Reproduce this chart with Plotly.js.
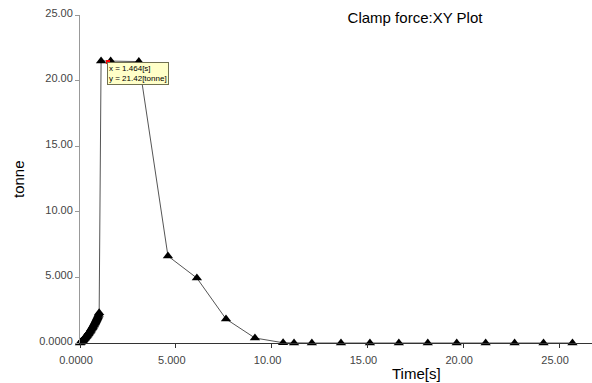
<!DOCTYPE html>
<html>
<head>
<meta charset="utf-8">
<script src="https://cdn.plot.ly/plotly-3.0.1.min.js"></script>
<style>html,body{margin:0;padding:0;background:#fff;}#chart{width:592px;height:383px;}</style>
</head>
<body>
<div id="chart"></div>
<script>
// Clamp force vs time
var timeS = [0, 0.025, 0.05, 0.075, 0.1, 0.125, 0.15, 0.175, 0.2, 0.225, 0.25, 0.275, 0.3, 0.325, 0.35, 0.375, 0.4,
             0.425, 0.45, 0.475, 0.5, 0.525, 0.55, 0.575, 0.6, 0.625, 0.65, 0.675, 0.7, 0.725, 0.75, 0.775, 0.8,
             0.825, 0.85, 0.875, 0.9, 0.925, 0.95, 0.975, 1.0,
             1.1, 1.6, 3.07, 4.59, 6.1, 7.62, 9.13, 10.6, 11.17, 12.1, 13.62, 15.13, 16.64, 18.15, 19.66, 21.17, 22.68, 24.19, 25.7];
var forceT = [0, 0.03, 0.07, 0.1, 0.14, 0.17, 0.21, 0.25, 0.3, 0.34, 0.38, 0.42, 0.47, 0.51, 0.56, 0.61, 0.66,
              0.71, 0.76, 0.81, 0.87, 0.92, 0.98, 1.04, 1.1, 1.16, 1.22, 1.28, 1.35, 1.41, 1.48, 1.55, 1.62,
              1.69, 1.77, 1.85, 1.93, 2.01, 2.1, 2.2, 2.3,
              21.5, 21.5, 21.45, 6.63, 4.95, 1.83, 0.38, 0.02, 0, 0, 0, 0, 0, 0, 0, 0, 0, 0, 0];
var cursorX = [1.464];
var cursorY = [21.42];
var xTickVals = [0, 5, 10, 15, 20, 25];
var xTickText = ["0.0000", "5.000", "10.00", "15.00", "20.00", "25.00"];
var yTickVals = [0, 5, 10, 15, 20, 25];
var yTickText = ["0.0000", "5.000", "10.00", "15.00", "20.00", "25.00"];

var traces = [
  {x: timeS, y: forceT, type: 'scatter', mode: 'lines+markers',
   line: {color: '#555555', width: 1},
   marker: {symbol: 'triangle-up', size: 9, color: '#000000'},
   cliponaxis: false, hoverinfo: 'x+y', showlegend: false},
  {x: cursorX, y: cursorY, type: 'scatter', mode: 'markers',
   marker: {symbol: 'square', size: 4, color: '#ff0000'},
   cliponaxis: false, showlegend: false}
];

var font = "Arial, 'Liberation Sans', sans-serif";
var layout = {
  width: 592, height: 383,
  margin: {l: 80, r: 0, t: 15, b: 40},
  paper_bgcolor: '#ffffff', plot_bgcolor: '#ffffff',
  font: {family: font, color: '#333333', size: 11},
  title: {text: 'Clamp force:XY Plot', font: {family: font, size: 15, color: '#000000'},
          x: 415/592, xanchor: 'center', xref: 'container', y: 1 - 18/383, yanchor: 'middle', yref: 'container'},
  xaxis: {range: [0, 26.72], tickvals: xTickVals, ticktext: xTickText,
          showgrid: false, zeroline: false, showline: true, linecolor: '#333333', linewidth: 1,
          ticks: 'outside', ticklen: 4, tickcolor: '#333333', ticklabelstandoff: 3, ticklabelshift: -4,
          tickfont: {size: 11, color: '#444444'}},
  yaxis: {range: [0, 25], tickvals: yTickVals, ticktext: yTickText,
          showgrid: false, zeroline: false, showline: true, linecolor: '#999999', linewidth: 1,
          ticks: 'outside', ticklen: 4, tickcolor: '#999999', ticklabelshift: -2,
          tickfont: {size: 11, color: '#444444'}},
  annotations: [
    {xref: 'x', yref: 'y', x: cursorX[0], y: cursorY[0], xanchor: 'left', yanchor: 'top',
     xshift: -1, yshift: 0, showarrow: false, align: 'left',
     text: 'x = ' + cursorX[0].toFixed(3) + '[s]<br>y = ' + cursorY[0].toFixed(2) + '[tonne]',
     font: {family: font, size: 8, color: '#000000'},
     bgcolor: '#ffffc8', bordercolor: '#707050', borderwidth: 1, borderpad: 1},
    {xref: 'paper', yref: 'paper', x: (416-80)/512, y: -(373-343)/328, xanchor: 'center', yanchor: 'middle',
     showarrow: false, text: 'Time[s]', font: {family: font, size: 15, color: '#000000'}},
    {xref: 'paper', yref: 'paper', x: -(80-18)/512, y: (343-179)/328, xanchor: 'center', yanchor: 'middle',
     showarrow: false, text: 'tonne', textangle: -90, font: {family: font, size: 15, color: '#000000'}}
  ]
};
Plotly.newPlot('chart', traces, layout, {displayModeBar: false, staticPlot: true});
</script>
</body>
</html>
